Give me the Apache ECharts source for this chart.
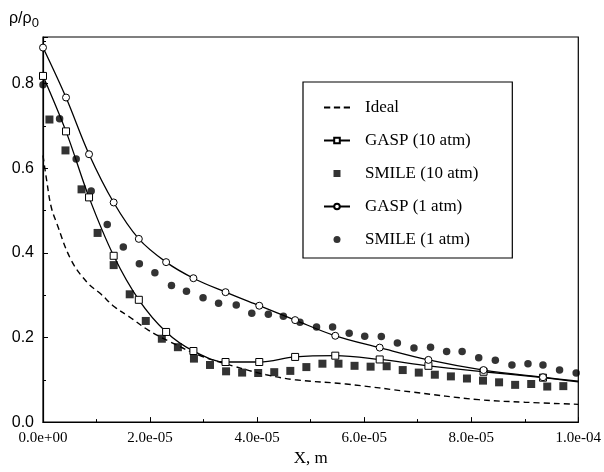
<!DOCTYPE html>
<html>
<head>
<meta charset="utf-8">
<script src="https://cdn.jsdelivr.net/npm/echarts@6/dist/echarts.min.js"></script>
<style>html,body{margin:0;padding:0;background:#fff}#c{width:604px;height:472px}</style>
</head>
<body>
<div id="c"></div>
<script>
// x values in units of 1e-5 m
const idealX = [0, 0.07, 0.15, 0.25, 0.53, 0.84, 1.06, 1.34, 1.6, 1.96, 2.37, 2.92, 3.54, 4.17, 4.71, 5.66, 6.9, 8.14, 9.0, 10.0];
const idealY = [0.63, 0.57, 0.51, 0.472, 0.382, 0.328, 0.305, 0.272, 0.25, 0.218, 0.19, 0.158, 0.133, 0.112, 0.100, 0.090, 0.071, 0.053, 0.047, 0.042];

const gaspX = [0, 0.43, 0.86, 1.32, 1.79, 2.30, 2.81, 3.41, 4.04, 4.71, 5.46, 6.29, 7.20, 8.23, 9.34];
const gasp10Y = [0.818, 0.687, 0.531, 0.393, 0.289, 0.213, 0.168, 0.142, 0.142, 0.154, 0.157, 0.148, 0.133, 0.119, 0.105];
const gasp1Y = [0.885, 0.767, 0.633, 0.519, 0.433, 0.378, 0.340, 0.307, 0.275, 0.241, 0.204, 0.176, 0.147, 0.123, 0.106];
const gaspEndX = 10.0;
const gasp10End = 0.095;
const gasp1End = 0.097;

const smile10X = [0.12, 0.42, 0.72, 1.02, 1.32, 1.62, 1.92, 2.22, 2.52, 2.82, 3.12, 3.42, 3.72, 4.02, 4.32, 4.62, 4.92, 5.22, 5.52, 5.82, 6.12, 6.42, 6.72, 7.02, 7.32, 7.62, 7.92, 8.22, 8.52, 8.82, 9.12, 9.42, 9.72];
const smile10Y = [0.715, 0.642, 0.550, 0.447, 0.371, 0.302, 0.239, 0.197, 0.177, 0.150, 0.135, 0.120, 0.117, 0.116, 0.118, 0.121, 0.130, 0.138, 0.138, 0.133, 0.131, 0.132, 0.123, 0.117, 0.112, 0.108, 0.103, 0.098, 0.094, 0.088, 0.090, 0.084, 0.085];

const smile1X = [0, 0.31, 0.62, 0.90, 1.20, 1.50, 1.80, 2.09, 2.40, 2.68, 2.99, 3.28, 3.61, 3.90, 4.21, 4.49, 4.80, 5.11, 5.41, 5.72, 6.01, 6.32, 6.62, 6.93, 7.24, 7.54, 7.83, 8.14, 8.45, 8.76, 9.06, 9.34, 9.65, 9.96];
const smile1Y = [0.797, 0.717, 0.622, 0.546, 0.467, 0.414, 0.374, 0.353, 0.323, 0.309, 0.294, 0.281, 0.277, 0.257, 0.255, 0.250, 0.236, 0.225, 0.225, 0.210, 0.203, 0.202, 0.187, 0.175, 0.177, 0.167, 0.167, 0.152, 0.146, 0.135, 0.138, 0.135, 0.123, 0.116];

const xTickLabels = ['0.0e+00', '2.0e-05', '4.0e-05', '6.0e-05', '8.0e-05', '1.0e-04'];
const yTickLabels = ['0.0', '0.2', '0.4', '0.6', '0.8'];
const seriesNames = ['Ideal', 'GASP (10 atm)', 'SMILE (10 atm)', 'GASP (1 atm)', 'SMILE (1 atm)'];

const SCALE = 1e-5;
const pts = (xs, ys) => xs.map((x, i) => [x * SCALE, ys[i]]);

const chart = echarts.init(document.getElementById('c'), null, {renderer: 'canvas'});
const serif = 'Liberation Serif, Times New Roman, serif';
const sans = 'Liberation Sans, Arial, sans-serif';

function xFmt(v) {
  const idx = Math.round(v / 2e-5);
  if (Math.abs(v / 2e-5 - idx) < 1e-6 && idx >= 0 && idx < xTickLabels.length) return xTickLabels[idx];
  return '';
}
function yFmt(v) {
  const idx = Math.round(v / 0.2);
  if (Math.abs(v / 0.2 - idx) < 1e-6 && idx >= 0 && idx < yTickLabels.length) return yTickLabels[idx];
  return '';
}

const openStyle = {color: '#fff', borderColor: '#000', borderWidth: 1};

chart.setOption({
  animation: false,
  backgroundColor: '#fff',
  grid: {left: 43, right: 24, top: 37, bottom: 45, show: true, borderColor: '#000', borderWidth: 1.2, backgroundColor: 'transparent'},
  graphic: [{
    type: 'text', left: 9, top: 11,
    style: {
      text: '{a|ρ/ρ}{b|0}',
      rich: {
        a: {fontFamily: sans, fontSize: 16, fill: '#000'},
        b: {fontFamily: sans, fontSize: 13, fill: '#000', verticalAlign: 'bottom', padding: [8, 0, 0, 0]}
      }
    }
  }],
  legend: {
    orient: 'vertical', left: 303, top: 82,
    data: [
      {name: seriesNames[0], icon: 'path://M0,0h6v2h-6zM9.5,0h6v2h-6zM19,0h6v2h-6z'},
      {name: seriesNames[1]},
      {name: seriesNames[2], icon: 'path://M0,0h10v10h-10z'},
      {name: seriesNames[3]},
      {name: seriesNames[4], icon: 'circle'}
    ],
    backgroundColor: '#fff', borderColor: '#000', borderWidth: 1.2,
    padding: [17, 34, 10, 20],
    itemGap: 16, itemWidth: 26, itemHeight: 7,
    textStyle: {fontFamily: serif, fontSize: 17, color: '#000', padding: [0, 0, 0, 10]}
  },
  xAxis: {
    type: 'value', min: 0, max: 1e-4, interval: 2e-5,
    name: 'X, m', nameLocation: 'middle', nameGap: 22,
    nameTextStyle: {fontFamily: serif, fontSize: 17, color: '#000'},
    axisLine: {onZero: false, lineStyle: {color: '#000', width: 1.2}},
    axisTick: {inside: true, length: 5, lineStyle: {color: '#000'}},
    minorTick: {show: true, splitNumber: 2, length: 3, lineStyle: {color: '#000'}},
    axisLabel: {formatter: xFmt, fontFamily: serif, fontSize: 15, color: '#000', margin: 8, showMinLabel: true, showMaxLabel: true},
    splitLine: {show: false}
  },
  yAxis: [{
    type: 'value', min: 0, max: 0.91, interval: 0.2,
    axisLine: {onZero: false, lineStyle: {color: '#000', width: 1.2}},
    axisTick: {inside: true, length: 5, lineStyle: {color: '#000'}},
    axisLabel: {formatter: yFmt, fontFamily: sans, fontSize: 16, color: '#000', margin: 9},
    splitLine: {show: false}
  }, {
    type: 'value', min: 0, max: 0.91, interval: 0.1, position: 'left',
    axisLine: {show: false},
    axisTick: {inside: true, length: 3, lineStyle: {color: '#000'}},
    axisLabel: {show: false},
    splitLine: {show: false}
  }],
  series: [
    {
      name: seriesNames[0], type: 'line', data: pts(idealX, idealY), symbol: 'none', smooth: 0.4,
      lineStyle: {color: '#000', width: 1.4, type: [6, 4]}, itemStyle: {color: '#000'}, z: 2
    },
    {
      name: seriesNames[1], type: 'line',
      data: pts(gaspX, gasp10Y).concat([{value: [gaspEndX * SCALE, gasp10End], symbol: 'none'}]),
      symbol: 'rect', symbolSize: 7, showAllSymbol: true, smooth: 0.35,
      lineStyle: {color: '#000', width: 1.3}, itemStyle: openStyle, z: 4
    },
    {
      name: seriesNames[2], type: 'scatter', data: pts(smile10X, smile10Y),
      symbol: 'rect', symbolSize: 8, itemStyle: {color: '#000'}, z: 3
    },
    {
      name: seriesNames[3], type: 'line',
      data: pts(gaspX, gasp1Y).concat([{value: [gaspEndX * SCALE, gasp1End], symbol: 'none'}]),
      symbol: 'circle', symbolSize: 7, showAllSymbol: true, smooth: 0.35,
      lineStyle: {color: '#000', width: 1.3}, itemStyle: openStyle, z: 4
    },
    {
      name: seriesNames[4], type: 'scatter', data: pts(smile1X, smile1Y),
      symbol: 'circle', symbolSize: 7.5, itemStyle: {color: '#000'}, z: 3
    }
  ]
});
</script>
</body>
</html>
